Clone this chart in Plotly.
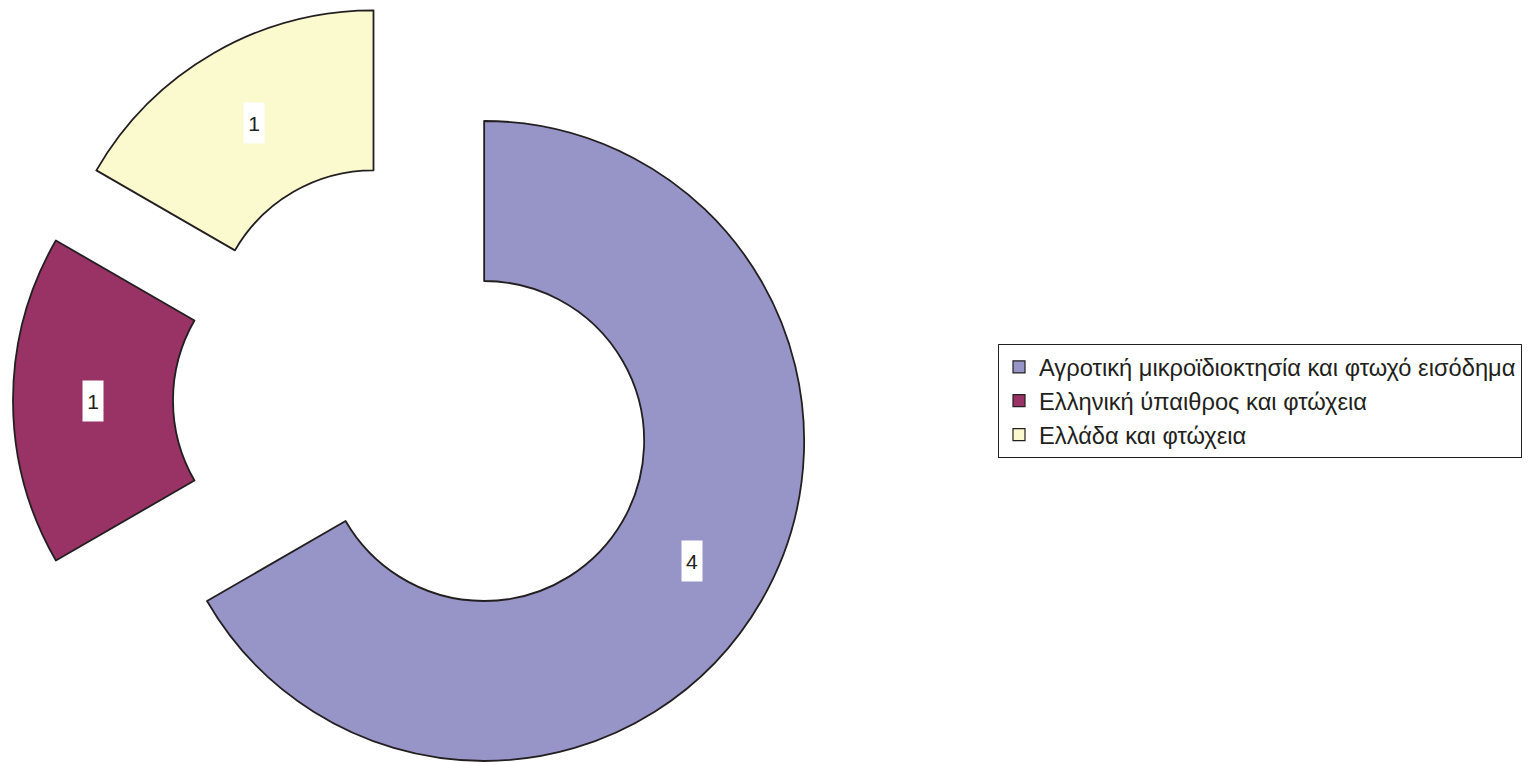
import math
import plotly.graph_objects as go

# ---- data ----
labels = ["Αγροτική μικροϊδιοκτησία και φτωχό εισόδημα",
          "Ελληνική ύπαιθρος και φτώχεια",
          "Ελλάδα και φτώχεια"]
values = [4, 1, 1]
colors = ["#9795C8", "#993366", "#FBF9CE"]

# ---- layout geometry (pixels) ----
W, H = 1529, 763
CX, CY = 414.0, 400.5      # centre of the un-pulled pie
R = 320.0                  # outer radius
HOLE = 0.5
PULL_PX = 81.0             # explode distance
LINE = "#231F20"
FONT = "Liberation Sans, Arial, sans-serif"

total = float(sum(values))
fig = go.Figure()

# legend carriers (tiny pies hidden under the opaque legend box)
for i, lab in enumerate(labels):
    fig.add_trace(go.Pie(
        labels=[lab], values=[values[i]],
        marker=dict(colors=[colors[i]], line=dict(color=LINE, width=1.2)),
        textinfo="none", hoverinfo="skip", sort=False,
        domain=dict(x=[0.80, 0.8004], y=[0.47, 0.4705]),
        legendgroup="g%d" % i, showlegend=True,
    ))

annotations = []
cum = 0.0
for i, lab in enumerate(labels):
    frac0 = cum / total
    cum += values[i]
    frac1 = cum / total
    mid = math.pi * (frac0 + frac1)           # clockwise from 12 o'clock
    dx, dy = math.sin(mid), -math.cos(mid)   # screen direction (y down)
    cx = CX + PULL_PX * dx
    cy = CY + PULL_PX * dy
    slice_cols = [colors[j] if j == i else "rgba(0,0,0,0)" for j in range(len(labels))]
    slice_lw = [1.8 if j == i else 0 for j in range(len(labels))]
    fig.add_trace(go.Pie(
        labels=labels, values=values, sort=False, direction="clockwise", rotation=0,
        hole=HOLE, textinfo="none", hoverinfo="label+value",
        marker=dict(colors=slice_cols, line=dict(color=LINE, width=slice_lw)),
        domain=dict(x=[(cx - R) / W, (cx + R) / W], y=[1 - (cy + R) / H, 1 - (cy - R) / H]),
        showlegend=False,
    ))
    rl = R * (1 + HOLE) / 2
    tx, ty = cx + rl * dx, cy + rl * dy
    annotations.append(dict(
        x=tx / W, y=1 - ty / H, xref="paper", yref="paper", text=str(values[i]),
        showarrow=False, bgcolor="white", width=20, height=40, borderpad=0,
        font=dict(family=FONT, size=21, color=LINE),
        xanchor="center", yanchor="middle",
    ))

fig.update_layout(
    width=W, height=H, margin=dict(l=0, r=0, t=0, b=0),
    paper_bgcolor="white", plot_bgcolor="white",
    annotations=annotations,
    legend=dict(
        x=998 / W, y=1 - 344 / H, xanchor="left", yanchor="top",
        bgcolor="white", bordercolor=LINE, borderwidth=1,
        font=dict(family=FONT, size=23.7, color=LINE),
        traceorder="grouped", tracegroupgap=0, itemwidth=30,
    ),
)

fig.write_html("out.html", config={"displayModeBar": False},
               post_script="document.body.style.margin='0';")
